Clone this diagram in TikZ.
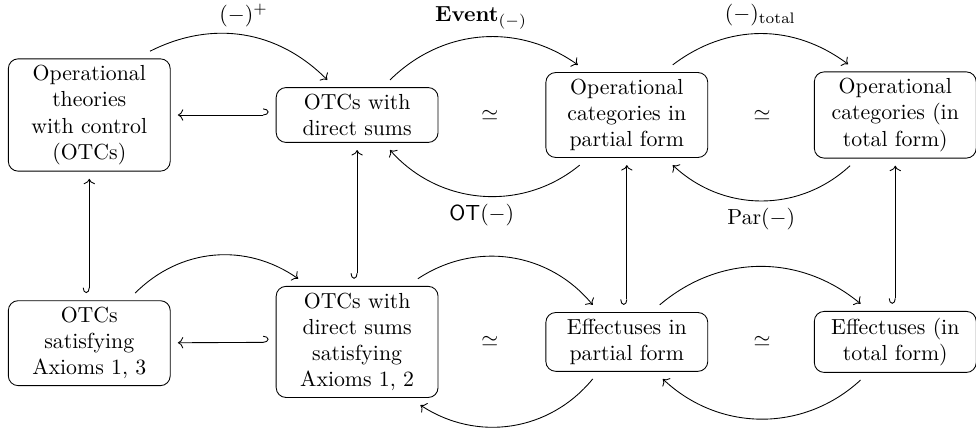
\documentclass[tikz,border=0pt]{standalone}
\usepackage{amsmath}
\usepackage{amssymb}
\usepackage{tikz}
\usetikzlibrary{arrows.meta}
\tikzset{box/.style={draw, rounded corners=4.5pt, align=center, text width=2.4cm, inner sep=3pt, outer sep=3.5pt}}
\tikzset{hookr/.style={{Hooks[right, width=6pt, length=2.5pt]}->}}
\tikzset{hookl/.style={{Hooks[left, width=6pt, length=2.5pt]}->}}
\begin{document}
\begin{tikzpicture}
  \useasboundingbox (0, 0) rectangle (15.742, 6.935);
  \node[box] (otc) at (1.44, 5.08){Operational\\ theories\\ with control\\ (OTCs)};
  \node[box] (otcds) at (5.76, 5.08){OTCs with\\ direct sums};
  \node[box] (opcp) at (10.11, 5.08){Operational\\ categories in\\ partial form};
  \node[box] (opct) at (14.44, 5.08){Operational\\ categories (in\\ total form)};
  \node[box] (ax13) at (1.44, 1.40){OTCs\\ satisfying\\ Axioms 1, 3};
  \node[box] (ax12) at (5.76, 1.42){OTCs with\\ direct sums\\ satisfying\\ Axioms 1, 2};
  \node[box] (effp) at (10.11, 1.42){Effectuses in\\ partial form};
  \node[box] (efft) at (14.44, 1.42){Effectuses (in\\ total form)};
  \node (eq1) at (7.90, 5.08){$\simeq$};
  \node (eq2) at (12.29, 5.08){$\simeq$};
  \node (eq3) at (7.90, 1.42){$\simeq$};
  \node (eq4) at (12.29, 1.42){$\simeq$};
  \draw[->] ([xshift=0.98cm]otc.north) to[bend left=36] node[above]{$(-)^+$} ([xshift=-0.48cm]otcds.north);
  \draw[->] ([xshift=0.53cm]otcds.north) to[bend left=40] node[above]{$\mathbf{Event}_{(-)}$} ([xshift=-0.79cm]opcp.north);
  \draw[->] ([xshift=-0.76cm]opcp.south) to[bend left=44] node[below]{$\mathsf{OT}(-)$} ([xshift=0.53cm]otcds.south);
  \draw[->] ([xshift=0.74cm]opcp.north) to[bend left=37] node[above]{$(-)_{\mathrm{total}}$} ([xshift=-0.76cm]opct.north);
  \draw[->] ([xshift=-0.73cm]opct.south) to[bend left=43] node[below]{$\mathrm{Par}(-)$} ([xshift=0.74cm]opcp.south);
  \draw[->] ([xshift=0.74cm]ax13.north) to[bend left=40] ([xshift=-0.95cm]ax12.north);
  \draw[->] ([xshift=0.98cm]ax12.north) to[bend left=42] ([xshift=-0.55cm]effp.north);
  \draw[->] ([xshift=-0.55cm]effp.south) to[bend left=42] ([xshift=1.02cm]ax12.south);
  \draw[->] ([xshift=0.53cm]effp.north) to[bend left=40] ([xshift=-0.56cm]efft.north);
  \draw[->] ([xshift=-0.56cm]efft.south) to[bend left=43] ([xshift=0.58cm]effp.south);
  \draw[hookl] (otcds) -- (otc);
  \draw[hookl] (ax12) -- (ax13);
  \draw[hookr] (ax13) -- (otc);
  \draw[hookr] (ax12) -- (otcds);
  \draw[hookr] (effp) -- (opcp);
  \draw[hookr] (efft) -- (opct);
\end{tikzpicture}
\end{document}
